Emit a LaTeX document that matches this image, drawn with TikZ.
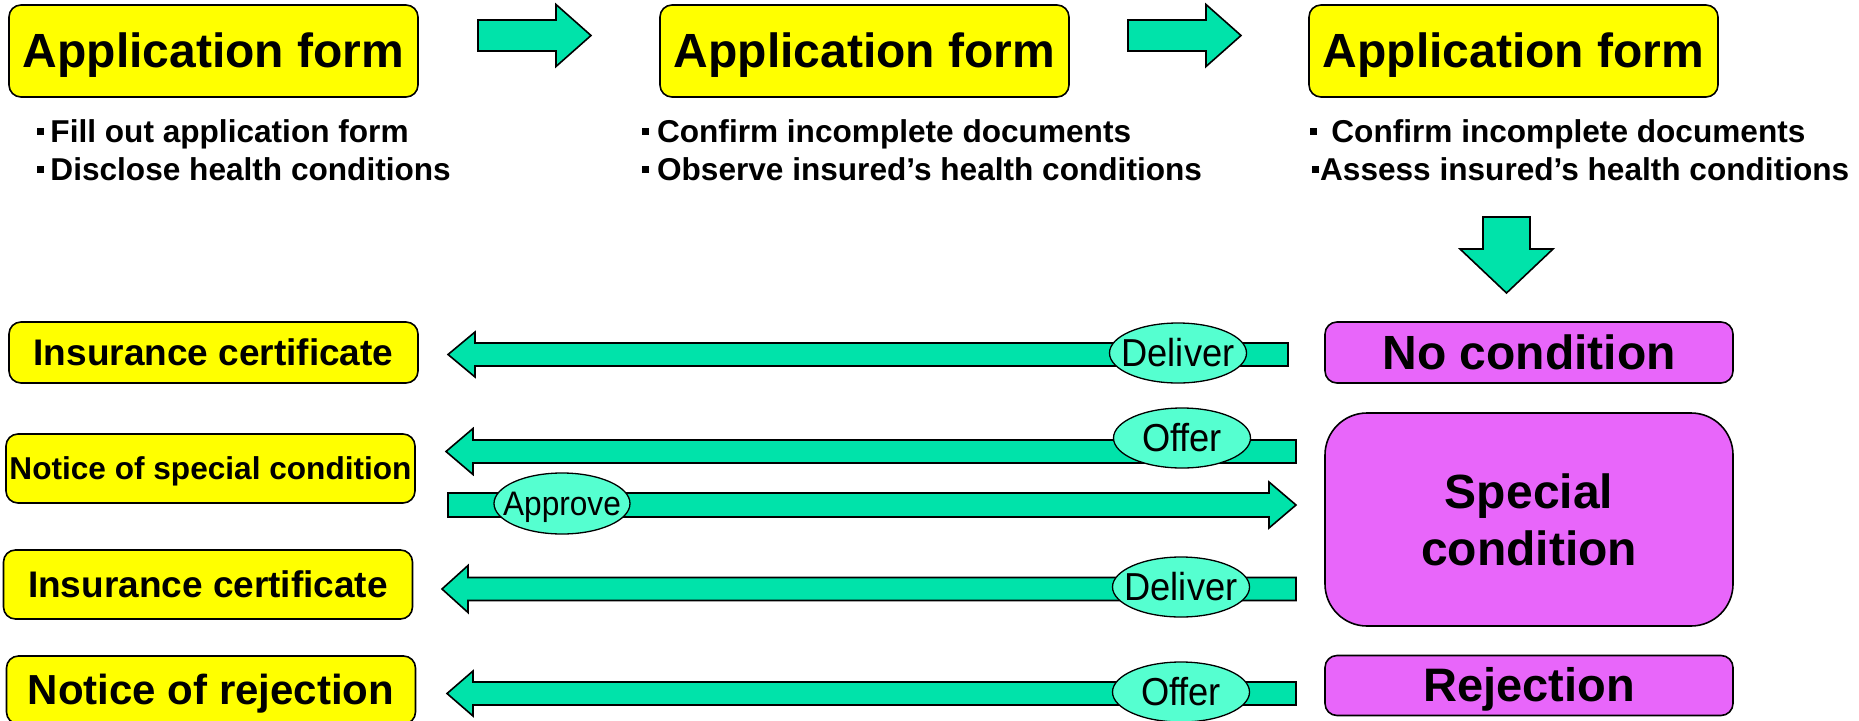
\documentclass[tikz,border=0pt]{standalone}
\usepackage{fontspec}
\setmainfont{Liberation Sans}
\newfontfamily\tagfont[FakeStretch=0.93]{Liberation Sans}
\usetikzlibrary{shapes.geometric,calc}

\definecolor{formyellow}{RGB}{255,255,0}
\definecolor{flowgreen}{RGB}{0,227,170}
\definecolor{tagaqua}{RGB}{85,255,208}
\definecolor{resultpink}{RGB}{232,102,250}

% small square bullet followed by a gap
\newcommand{\sqbullet}[1][0.2em]{\rule[0.22em]{0.22em}{0.22em}\hspace{#1}}
% label that does not widen its ellipse
\newcommand{\taglabel}[1]{\makebox[0pt][c]{#1}}

% horizontal block arrow: tail, tip, shaft half-width, head half-width, head length
\newcommand{\hblock}[5]{%
  \path[blk] let \p1=(#1), \p2=(#2), \n1={ifthenelse(\x2>\x1,1,-1)*#5} in
    (\x1,{\y1+#3}) -- ({\x2-\n1},{\y1+#3}) -- ({\x2-\n1},{\y1+#4}) -- (\x2,\y1)
    -- ({\x2-\n1},{\y1-#4}) -- ({\x2-\n1},{\y1-#3}) -- (\x1,{\y1-#3}) -- cycle;}

% vertical block arrow: tail, tip, shaft half-width, head half-width, head length
\newcommand{\vblock}[5]{%
  \path[blk] let \p1=(#1), \p2=(#2), \n1={ifthenelse(\y2>\y1,1,-1)*#5} in
    ({\x1-#3},\y1) -- ({\x1-#3},{\y2-\n1}) -- ({\x1-#4},{\y2-\n1}) -- (\x1,\y2)
    -- ({\x1+#4},{\y2-\n1}) -- ({\x1+#3},{\y2-\n1}) -- ({\x1+#3},\y1) -- cycle;}

\tikzset{
  box/.style={draw=black, line width=1.6pt, rounded corners=12pt, inner sep=0pt},
  formbox/.style={box, fill=formyellow, minimum width=409pt, minimum height=92pt},
  docbox/.style={box, fill=formyellow, minimum width=409pt},
  resbox/.style={box, fill=resultpink, minimum width=408pt},
  tag/.style={ellipse, draw=black, line width=1.3pt, fill=tagaqua, inner sep=0pt,
              minimum width=137pt, minimum height=60pt},
  blk/.style={draw=black, line width=1.6pt, fill=flowgreen, line join=miter},
  note/.style={anchor=base west, inner sep=0pt,
               font=\fontsize{31.6pt}{38pt}\selectfont\bfseries},
  bigtxt/.style={font=\fontsize{48pt}{57pt}\selectfont\bfseries, text height=33pt, text depth=0pt},
  midtxt/.style={font=\fontsize{42pt}{50pt}\selectfont\bfseries, text height=29pt, text depth=0pt},
  certtxt/.style={font=\fontsize{37pt}{44pt}\selectfont\bfseries, text height=25.5pt, text depth=0pt},
  smalltxt/.style={font=\fontsize{31.6pt}{38pt}\selectfont\bfseries, text height=21.8pt, text depth=0pt},
  tagtxt/.style={font=\tagfont\fontsize{39pt}{46pt}\selectfont, text height=26.8pt, text depth=0pt},
}

\begin{document}
\begin{tikzpicture}[x=1pt, y=-1pt]
\useasboundingbox (0,0) rectangle (1859,720);

% ---- application stages ----
\node[formbox, bigtxt] (form1) at (213.5,51) {Application form};
\node[formbox, bigtxt] (form2) at (864.5,51) {Application form};
\node[formbox, bigtxt] (form3) at (1513.5,51) {Application form};

\node[note] (task1a) at (37,142) {\sqbullet Fill out application form};
\node[note] (task1b) at (37,180) {\sqbullet Disclose health conditions};
\node[note] (task2a) at (642,142) {\sqbullet[0.25em]Confirm incomplete documents};
\node[note] (task2b) at (642,180) {\sqbullet[0.25em]Observe insured’s health conditions};
\node[note] (task3a) at (1310,142) {\sqbullet[0.45em]Confirm incomplete documents};
\node[note] (task3b) at (1312,180) {\sqbullet[0.03em]Assess insured’s health conditions};

% stage arrows
\coordinate (s1tail) at (478,35.5);
\coordinate (s1tip)  at (591,35.5);
\coordinate (s2tail) at (1128,35.5);
\coordinate (s2tip)  at (1241,35.5);
\coordinate (s3tail) at (1506.5,217);
\coordinate (s3tip)  at (1506.5,293);
\hblock{s1tail}{s1tip}{15.5}{31}{35}
\hblock{s2tail}{s2tip}{15.5}{31}{35}
\vblock{s3tail}{s3tip}{23.5}{46.5}{44}

% ---- underwriting results ----
\node[resbox, minimum height=61pt, bigtxt] (nocond) at (1529,352.5) {No condition};
\node[resbox, minimum height=213pt, rounded corners=42pt, align=center,
      font=\fontsize{48pt}{57pt}\selectfont\bfseries] (special) at (1529,519.5) {Special\\condition};
\node[resbox, minimum height=60pt, font=\fontsize{47pt}{56pt}\selectfont\bfseries,
      text height=32.3pt, text depth=0pt] (rejection) at (1529,685.5) {Rejection};

% ---- documents sent back ----
\node[docbox, minimum height=61pt, certtxt] (cert1) at (213.5,352.5) {Insurance certificate};
\node[docbox, minimum height=69pt, smalltxt] (notice) at (210.5,468.5) {Notice of special condition};
\node[docbox, minimum height=69pt, certtxt] (cert2) at (208,584.5) {Insurance certificate};
\node[docbox, minimum height=68pt, midtxt] (refusal) at (211,690) {Notice of rejection};

% flow arrows between results and documents
\coordinate (r1tail) at (1288,354.5);
\coordinate (r1tip)  at (448,354.5);
\coordinate (r2tail) at (1296,451.5);
\coordinate (r2tip)  at (446,451.5);
\coordinate (r3tail) at (448,505);
\coordinate (r3tip)  at (1296,505);
\coordinate (r4tail) at (1296,589);
\coordinate (r4tip)  at (442,589);
\coordinate (r5tail) at (1296,693.5);
\coordinate (r5tip)  at (447,693.5);
\hblock{r1tail}{r1tip}{11.5}{22.5}{27}
\hblock{r2tail}{r2tip}{11.5}{23}{27}
\hblock{r3tail}{r3tip}{12}{23}{27}
\hblock{r4tail}{r4tip}{11.5}{23.5}{26}
\hblock{r5tail}{r5tip}{11.5}{22.5}{26}

% action tags on the arrows
\node[tag, tagtxt] (deliver1) at (1178,353) {\taglabel{Deliver}};
\node[tag, tagtxt] (offer1) at (1182,438) {\taglabel{Offer}};
\node[tag, minimum width=136pt, minimum height=61pt,
      font=\tagfont\fontsize{34pt}{40pt}\selectfont, text height=23.4pt, text depth=0pt]
      (approve) at (562,503.5) {\taglabel{Approve}};
\node[tag, tagtxt] (deliver2) at (1181,587) {\taglabel{Deliver}};
\node[tag, tagtxt] (offer2) at (1181,692) {\taglabel{Offer}};
\end{tikzpicture}
\end{document}
